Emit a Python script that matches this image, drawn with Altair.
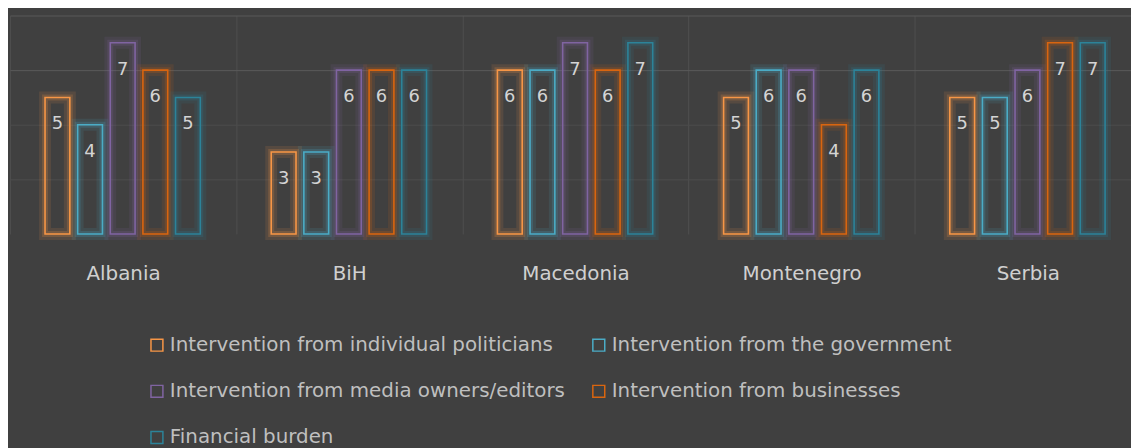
import altair as alt
import pandas as pd

countries = ["Albania", "BiH", "Macedonia", "Montenegro", "Serbia"]
series = [
    "Intervention from individual politicians",
    "Intervention from the government",
    "Intervention from media owners/editors",
    "Intervention from businesses",
    "Financial burden",
]
colors = ["#F79646", "#4BACC6", "#8064A2", "#D9650F", "#2C8399"]
values = {
    "Intervention from individual politicians": [5, 3, 6, 5, 5],
    "Intervention from the government": [4, 3, 6, 6, 5],
    "Intervention from media owners/editors": [7, 6, 7, 6, 6],
    "Intervention from businesses": [6, 6, 6, 4, 7],
    "Financial burden": [5, 6, 7, 6, 7],
}

rows = []
for s in series:
    for c, v in zip(countries, values[s]):
        rows.append({"country": c, "series": s, "value": v})
df = pd.DataFrame(rows)

FONT = "DejaVu Sans"
BG = "#404040"

x = alt.X(
    "country:N",
    sort=countries,
    scale=alt.Scale(range=[0, 1139], paddingInner=0, paddingOuter=0),
    axis=alt.Axis(
        title=None, domain=False, ticks=False, tickBand="extent",
        grid=True, gridColor="#4f4f4f", gridWidth=1, labelAngle=0,
        labelFont=FONT, labelFontSize=20, labelColor="#d0d0d0",
        labelBaseline="middle", labelPadding=40,
    ),
)
xo = alt.XOffset(
    "series:N", sort=series,
    scale=alt.Scale(range=[35.3, 191.7], paddingInner=0.24, paddingOuter=0),
)
y = alt.Y(
    "value:Q",
    scale=alt.Scale(domain=[0, 8]),
    axis=alt.Axis(
        title=None, labels=False, ticks=False, domain=False,
        values=[0, 2, 4, 6, 8], grid=True,
        gridColor={"condition": {"test": "datum.value >= 6", "value": "#5a5a5a"},
                   "value": "#4d4d4d"},
        gridOpacity={"condition": {"test": "datum.value == 0", "value": 0},
                     "value": 1},
    ),
)
stroke = alt.Stroke(
    "series:N", sort=series,
    scale=alt.Scale(domain=series, range=colors),
    legend=alt.Legend(
        title=None, orient="none", legendX=138, legendY=322, columns=2,
        direction="horizontal",
        symbolType="square", symbolSize=144, symbolStrokeWidth=1.5,
        symbolFillColor="transparent", symbolOpacity=1,
        labelFont=FONT, labelFontSize=20, labelColor="#bfbfbf",
        labelLimit=0, labelOffset=3, rowPadding=26.5, columnPadding=23,
    ),
)

base = alt.Chart(df).encode(x=x, xOffset=xo, y=y, stroke=stroke)

glow1 = base.mark_bar(fill="transparent", strokeWidth=12, strokeOpacity=0.12)
glow2 = base.mark_bar(fill="transparent", strokeWidth=6, strokeOpacity=0.2)
crisp = base.mark_bar(fill="transparent", strokeWidth=1.6, strokeOpacity=1)
labels = alt.Chart(df).mark_text(
    font=FONT, fontSize=18, color="#d4d4d4", baseline="middle", dy=27
).encode(x=x, xOffset=xo, y=y, text="value:Q")

chart = alt.layer(glow1, glow2, crisp, labels).properties(
    width=1129, height=220, background=BG,
    padding={"left": 2, "top": 6, "right": 0, "bottom": 214},
    autosize=alt.AutoSizeParams(type="none"),
).configure_view(stroke=None)

chart.save("out.html", embed_options={"renderer": "svg", "actions": False})
